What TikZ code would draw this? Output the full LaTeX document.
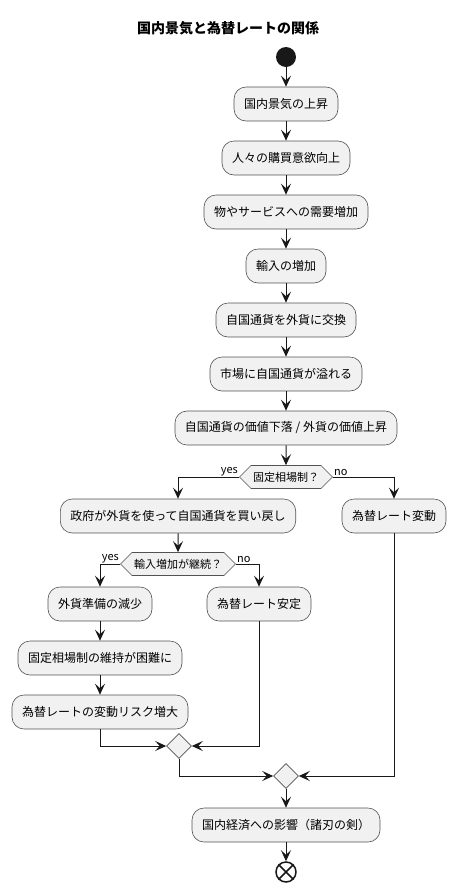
\documentclass[tikz,border=0pt]{standalone}
\usepackage{fontspec}
\setmainfont{Noto Sans CJK JP}
\usetikzlibrary{arrows.meta,shapes.geometric,shapes.symbols}
\definecolor{boxfill}{HTML}{F1F1F1}
\definecolor{lineclr}{HTML}{181818}
\tikzset{
  x=1pt,y=-1pt,
  act/.style={draw=lineclr!75, line width=0.6pt, fill=boxfill, rounded corners=12pt,
    minimum height=34pt, inner xsep=10pt, inner ysep=0pt, font=\fontsize{12}{14}\selectfont},
  dec/.style={draw=lineclr!75, line width=0.6pt, fill=boxfill, shape=signal, signal to=west and east,
    signal pointer angle=90, minimum height=23pt, inner xsep=2pt, inner ysep=0pt, font=\fontsize{11}{13}\selectfont},
  merge/.style={draw=lineclr!75, line width=0.6pt, fill=boxfill, shape=diamond, minimum size=25pt, inner sep=0pt},
  flow/.style={draw=lineclr, line width=1pt, -{Stealth[length=11pt,width=10pt,inset=4.5pt]}},
  lbl/.style={font=\fontsize{11}{13}\selectfont, inner sep=1pt},
}
\begin{document}
\begin{tikzpicture}
\useasboundingbox (0,0) rectangle (455,892);
\node[font=\fontsize{14}{16}\selectfont\bfseries] (title) at (228,28) {国内景気と為替レートの関係};
\node[circle, fill=lineclr, minimum size=20pt, inner sep=0pt] (start) at (286,57) {};
\node[act] (a1) at (286,104) {国内景気の上昇};
\node[act] (a2) at (286,158) {人々の購買意欲向上};
\node[act] (a3) at (286,212) {物やサービスへの需要増加};
\node[act] (a4) at (286,266) {輸入の増加};
\node[act] (a5) at (286,320) {自国通貨を外貨に交換};
\node[act] (a6) at (286,374) {市場に自国通貨が溢れる};
\node[act] (a7) at (286,428) {自国通貨の価値下落 / 外貨の価値上昇};
\node[dec] (d1) at (286,477) {固定相場制？};
\node[act] (b1) at (178,516) {政府が外貨を使って自国通貨を買い戻し};
\node[act] (c1) at (394,516) {為替レート変動};
\node[dec] (d2) at (178,564) {輸入増加が継続？};
\node[act] (e1) at (100,604) {外貨準備の減少};
\node[act] (f1) at (259,604) {為替レート安定};
\node[act] (e2) at (100,658) {固定相場制の維持が困難に};
\node[act] (e3) at (100,712) {為替レートの変動リスク増大};
\node[merge] (m1) at (179,746) {};
\node[merge] (m2) at (286,776) {};
\node[act] (g1) at (286,825) {国内経済への影響（諸刃の剣）};
\node[circle, draw=lineclr, line width=1.5pt, fill=white, minimum size=20pt, inner sep=0pt] (end) at (286,872) {};
\draw[lineclr, line width=1.5pt] (end.north west) -- (end.south east) (end.north east) -- (end.south west);

\node[lbl, anchor=south east] (y1) at (d1.west) {yes};
\node[lbl, anchor=south west] (n1) at (d1.east) {no};
\node[lbl, anchor=south east] (y2) at (d2.west) {yes};
\node[lbl, anchor=south west] (n2) at (d2.east) {no};

\draw[flow] (start) -- (a1);
\draw[flow] (a1) -- (a2);
\draw[flow] (a2) -- (a3);
\draw[flow] (a3) -- (a4);
\draw[flow] (a4) -- (a5);
\draw[flow] (a5) -- (a6);
\draw[flow] (a6) -- (a7);
\draw[flow] (a7) -- (d1);
\draw[flow] (d1.west) -| (b1.north);
\draw[flow] (d1.east) -| (c1.north);
\draw[flow] (b1) -- (d2);
\draw[flow] (d2.west) -| (e1.north);
\draw[flow] (d2.east) -| (f1.north);
\draw[flow] (e1) -- (e2);
\draw[flow] (e2) -- (e3);
\draw[flow] (e3.south) |- (m1.west);
\draw[flow] (f1.south) |- (m1.east);
\draw[flow] (m1.south) |- (m2.west);
\draw[flow] (c1.south) |- (m2.east);
\draw[flow] (m2) -- (g1);
\draw[flow] (g1) -- (end);
\end{tikzpicture}
\end{document}
